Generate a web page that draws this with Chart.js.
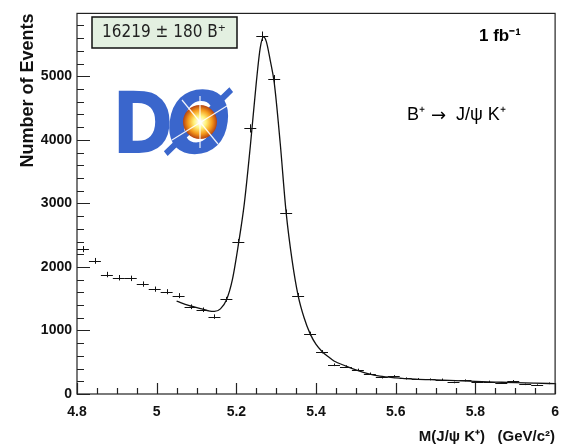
<!DOCTYPE html>
<html>
<head>
<meta charset="utf-8">
<script src="https://cdn.jsdelivr.net/npm/chart.js@4.4.0/dist/chart.umd.min.js"></script>
<style>
  html, body { margin: 0; padding: 0; background: #fff; }
  #wrap { position: relative; width: 569px; height: 447px; }
</style>
</head>
<body>
<div id="wrap"><canvas id="myChart"></canvas></div>
<script>
// histogram bins (bin centre, GeV/c^2), 0.03 wide
const massBins = [4.815, 4.845, 4.875, 4.905, 4.935, 4.965, 4.995, 5.025, 5.055, 5.085,
                  5.115, 5.145, 5.175, 5.205, 5.235, 5.265, 5.295, 5.325, 5.355, 5.385,
                  5.415, 5.445, 5.475, 5.505, 5.535, 5.565, 5.595, 5.625, 5.655, 5.685,
                  5.715, 5.745, 5.775, 5.805, 5.835, 5.865, 5.895, 5.925, 5.955, 5.985];
const events = [2280, 2095, 1880, 1830, 1820, 1730, 1650, 1610, 1548, 1373,
                1326, 1218, 1490, 2390, 4180, 5630, 4950, 2850, 1550, 950,
                665, 460, 430, 380, 320, 260, 280, 245, 235, 230,
                228, 182, 215, 188, 196, 176, 205, 152, 140, 168];
const eventErrors = [48, 46, 43, 43, 43, 42, 41, 40, 39, 37,
                     36, 35, 39, 49, 65, 75, 70, 53, 39, 31,
                     26, 21, 21, 19, 18, 16, 17, 16, 15, 15,
                     15, 13, 15, 14, 14, 13, 14, 12, 12, 13];

// fit curve
const fitMass = [5.05, 5.08, 5.11, 5.13, 5.145, 5.16, 5.175, 5.19, 5.205, 5.22,
                 5.235, 5.25, 5.26, 5.268, 5.275, 5.285, 5.295, 5.31, 5.325, 5.34,
                 5.355, 5.37, 5.385, 5.40, 5.415, 5.43, 5.445, 5.475, 5.50, 5.53,
                 5.56, 5.60, 5.65, 5.70, 5.75, 5.80, 5.85, 5.90, 5.95, 6.00];
const fitValues = [1460, 1395, 1345, 1310, 1300, 1340, 1480, 1800, 2350, 3000,
                   3900, 4900, 5450, 5620, 5550, 5250, 4900, 3950, 2850, 2100,
                   1550, 1200, 950, 780, 670, 590, 520, 440, 380, 320,
                   280, 255, 235, 222, 210, 198, 188, 178, 170, 163];

const xTickValues = [4.8, 5.0, 5.2, 5.4, 5.6, 5.8, 6.0];
const yTickValues = [0, 1000, 2000, 3000, 4000, 5000];

const ink = '#111';

const frameTicks = {
  id: 'frameTicks',
  afterDraw(chart) {
    const {ctx, chartArea: a, scales: {x, y}} = chart;
    ctx.save();
    ctx.strokeStyle = '#222';
    ctx.lineWidth = 1.2;
    ctx.strokeRect(a.left, a.top, a.right - a.left, a.bottom - a.top);
    ctx.beginPath();
    for (let v = 4.8; v <= 6.0001; v += 0.05) {
      const px = Math.round(x.getPixelForValue(v)) + 0.5;
      const major = Math.abs(v / 0.2 - Math.round(v / 0.2)) < 1e-6;
      ctx.moveTo(px, a.bottom);
      ctx.lineTo(px, a.bottom - (major ? 11 : 6));
    }
    for (let v = 0; v <= y.max; v += 200) {
      const py = Math.round(y.getPixelForValue(v)) + 0.5;
      const major = v % 1000 === 0;
      ctx.moveTo(a.left, py);
      ctx.lineTo(a.left + (major ? 13 : 7), py);
    }
    ctx.stroke();
    ctx.restore();
  }
};

const errorCrosses = {
  id: 'errorCrosses',
  afterDatasetsDraw(chart) {
    const {ctx, scales: {x, y}} = chart;
    ctx.save();
    ctx.strokeStyle = ink;
    ctx.lineWidth = 1;
    ctx.beginPath();
    massBins.forEach((m, i) => {
      const x0 = x.getPixelForValue(m - 0.015), x1 = x.getPixelForValue(m + 0.015);
      const yc = Math.round(y.getPixelForValue(events[i])) + 0.5;
      const xc = Math.round(x.getPixelForValue(m)) + 0.5;
      ctx.moveTo(x0, yc); ctx.lineTo(x1, yc);
      ctx.moveTo(xc, y.getPixelForValue(events[i] + eventErrors[i]));
      ctx.lineTo(xc, y.getPixelForValue(events[i] - eventErrors[i]));
    });
    ctx.stroke();
    ctx.restore();
  }
};

const labels = {
  id: 'labels',
  afterDraw(chart) {
    const ctx = chart.ctx;
    ctx.save();
    // yield box
    ctx.fillStyle = '#e3f0e1';
    ctx.fillRect(92, 17, 145, 31);
    ctx.strokeStyle = '#111';
    ctx.lineWidth = 1.5;
    ctx.strokeRect(92, 17, 145, 31);
    ctx.fillStyle = '#222';
    ctx.font = '17px "DejaVu Sans Condensed", "DejaVu Sans"';
    ctx.textBaseline = 'middle';
    ctx.textAlign = 'center';
    ctx.fillText('16219 \u00b1 180 B\u207a', 164, 33);

    ctx.fillStyle = '#000';
    ctx.textAlign = 'left';
    ctx.font = 'bold 17px "Liberation Sans", Arial';
    ctx.fillText('1 fb\u207b\u00b9', 479, 36);
    ctx.font = '18px "Liberation Sans", Arial';
    ctx.fillText('B\u207a', 407, 115);
    ctx.font = '18px "DejaVu Sans"';
    ctx.fillText('\u2192', 431, 116);
    ctx.font = '18px "Liberation Sans", Arial';
    ctx.fillText('J/\u03c8 K\u207a', 456, 115);

    // D0 logo
    const g = ctx.createLinearGradient(0, 90, 0, 156);
    g.addColorStop(0, '#3a66cc');
    g.addColorStop(0.5, '#2550bc');
    g.addColorStop(1, '#18378e');
    ctx.fillStyle = g;
    ctx.textBaseline = 'alphabetic';
    ctx.font = 'bold 86px "DejaVu Sans"';
    ctx.save();
    ctx.translate(112, 153);
    ctx.scale(0.86, 1);
    ctx.fillText('D', 0, 0);
    ctx.restore();
    ctx.save();
    ctx.translate(162, 153);
    ctx.transform(0.9, 0, -0.12, 1, 0, 0);
    ctx.fillText('\u00d8', 0, 0);
    ctx.restore();
    const r = ctx.createRadialGradient(200, 122, 1, 200, 122, 18);
    r.addColorStop(0, '#ffffff');
    r.addColorStop(0.3, '#fff27a');
    r.addColorStop(0.65, '#f59a1c');
    r.addColorStop(1, '#a8300e');
    ctx.fillStyle = r;
    ctx.beginPath();
    ctx.arc(200, 122, 17, 0, Math.PI * 2);
    ctx.fill();
    ctx.strokeStyle = 'rgba(255,255,255,0.9)';
    ctx.lineWidth = 1.2;
    ctx.beginPath();
    ctx.moveTo(172, 140); ctx.lineTo(230, 104);
    ctx.moveTo(182, 100); ctx.lineTo(218, 144);
    ctx.moveTo(200, 96); ctx.lineTo(200, 148);
    ctx.stroke();
    ctx.restore();
  }
};

const ctx = document.getElementById('myChart').getContext('2d');

const myChart = new Chart(ctx, {
  type: 'scatter',
  data: {
    datasets: [{
      label: 'data',
      data: massBins.map((m, i) => ({x: m, y: events[i]})),
      pointRadius: 0,
      showLine: false
    }, {
      label: 'fit',
      data: fitMass.map((m, i) => ({x: m, y: fitValues[i]})),
      showLine: true,
      pointRadius: 0,
      borderColor: ink,
      borderWidth: 1.3,
      cubicInterpolationMode: 'monotone'
    }]
  },
  options: {
    responsive: true,
    maintainAspectRatio: false,
    animation: false,
    layout: { padding: { left: 0, right: 12, top: 6, bottom: 0 } },
    plugins: { legend: { display: false }, tooltip: { enabled: false } },
    scales: {
      x: {
        type: 'linear', min: 4.8, max: 6.0,
        grid: { display: false, drawTicks: false },
        border: { display: false },
        afterBuildTicks: s => { s.ticks = xTickValues.map(v => ({value: v})); },
        afterFit: s => { s.height = 53; },
        ticks: {
          padding: 10, color: ink,
          font: { family: '"Liberation Sans", Arial', weight: 'bold', size: 14 },
          callback: v => String(Number(v.toFixed(1)))
        },
        title: {
          display: true, align: 'end', text: 'M(J/\u03c8 K\u207a)   (GeV/c\u00b2)', color: ink,
          font: { family: '"Liberation Sans", Arial', weight: 'bold', size: 15 },
          padding: { top: 0, bottom: 1 }
        }
      },
      y: {
        type: 'linear', min: 0, max: 5990,
        grid: { display: false, drawTicks: false },
        border: { display: false },
        afterBuildTicks: s => { s.ticks = yTickValues.map(v => ({value: v})); },
        afterFit: s => { s.width = 77; },
        ticks: {
          padding: 5, color: ink,
          font: { family: '"Liberation Sans", Arial', weight: 'bold', size: 14 },
          callback: v => String(v)
        },
        title: {
          display: true, align: 'end', text: 'Number of Events', color: ink,
          font: { family: '"Liberation Sans", Arial', weight: 'bold', size: 18 },
          padding: { top: 17, bottom: 0 }
        }
      }
    }
  },
  plugins: [frameTicks, errorCrosses, labels]
});
</script>
</body>
</html>
